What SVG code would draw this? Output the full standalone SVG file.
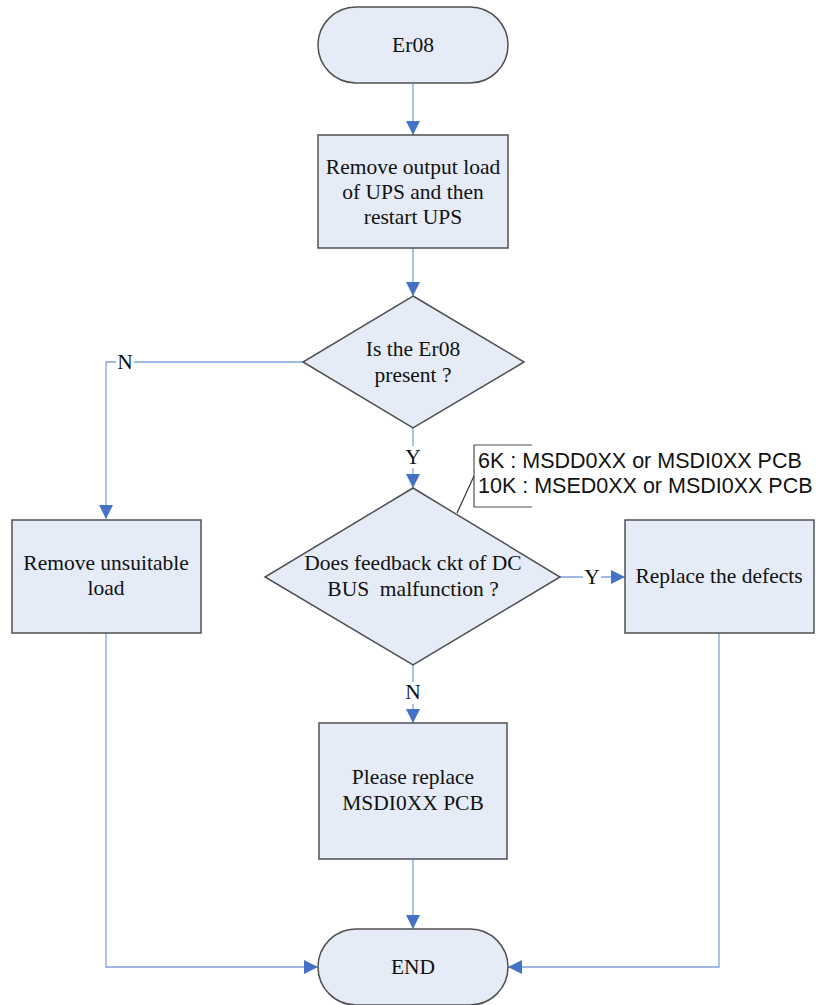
<svg xmlns="http://www.w3.org/2000/svg" width="816" height="1005" viewBox="0 0 816 1005">
  <style>
    .node { fill: #e5ecf7; stroke: #505050; stroke-width: 1.5; }
    .txt { font-family: "Liberation Serif", "Times New Roman", serif; font-size: 21.5px; fill: #111; text-anchor: middle; }
    .note { font-family: "Liberation Sans", Arial, sans-serif; font-size: 21.5px; fill: #111; }
    .conn { fill: none; stroke: #7ea2dc; stroke-width: 1.3; }
    .lbl { font-family: "Liberation Serif", "Times New Roman", serif; font-size: 21.5px; fill: #111; text-anchor: middle; }
  </style>
  <defs>
    <marker id="arrow" viewBox="0 0 10 10" refX="10" refY="5" markerWidth="14" markerHeight="14" markerUnits="userSpaceOnUse" orient="auto">
      <path d="M0,0 L10,5 L0,10 Z" fill="#4472c4"/>
    </marker>
  </defs>
  <rect width="816" height="1005" fill="#ffffff"/>

  <g id="connectors">
    <line class="conn" x1="413" y1="83" x2="413" y2="135" marker-end="url(#arrow)"/>
    <line class="conn" x1="413" y1="248" x2="413" y2="296" marker-end="url(#arrow)"/>
    <polyline class="conn" points="303,362 106,362 106,519" marker-end="url(#arrow)"/>
    <line class="conn" x1="413" y1="428" x2="413" y2="488" marker-end="url(#arrow)"/>
    <line class="conn" x1="560" y1="577" x2="625" y2="577" marker-end="url(#arrow)"/>
    <line class="conn" x1="413" y1="665" x2="413" y2="723" marker-end="url(#arrow)"/>
    <line class="conn" x1="413" y1="859" x2="413" y2="929" marker-end="url(#arrow)"/>
    <polyline class="conn" points="106,633 106,967 318,967" marker-end="url(#arrow)"/>
    <polyline class="conn" points="719,633 719,967 508,967" marker-end="url(#arrow)"/>
    <!-- branch labels on white backing -->
    <rect x="116" y="352" width="18" height="20" fill="#ffffff"/>
    <text class="lbl" x="125" y="369">N</text>
    <rect x="404" y="446" width="18" height="22" fill="#ffffff"/>
    <text class="lbl" x="413" y="464">Y</text>
    <rect x="583" y="567" width="18" height="20" fill="#ffffff"/>
    <text class="lbl" x="592" y="584">Y</text>
    <rect x="404" y="682" width="18" height="22" fill="#ffffff"/>
    <text class="lbl" x="413" y="699">N</text>
  </g>

  <g id="start">
    <rect class="node" x="318" y="7" width="190" height="76" rx="38" ry="38"/>
    <text class="txt" x="413" y="52">Er08</text>
  </g>

  <g id="remove-output-load">
    <rect class="node" x="318" y="135" width="190" height="113"/>
    <text class="txt" x="413" y="174">Remove output load</text>
    <text class="txt" x="413" y="199">of UPS and then</text>
    <text class="txt" x="413" y="224">restart UPS</text>
  </g>

  <g id="is-er08-present">
    <polygon class="node" points="413,296 524,362 413,428 303,362"/>
    <text class="txt" x="413" y="356">Is the Er08</text>
    <text class="txt" x="413" y="382">present ?</text>
  </g>

  <g id="remove-unsuitable-load">
    <rect class="node" x="12" y="520" width="189" height="113"/>
    <text class="txt" x="106" y="570">Remove unsuitable</text>
    <text class="txt" x="106" y="595">load</text>
  </g>

  <g id="feedback-check">
    <polygon class="node" points="413,488 560,577 413,665 265,577"/>
    <text class="txt" x="413" y="570">Does feedback ckt of DC</text>
    <text class="txt" x="413" y="596" xml:space="preserve">BUS  malfunction ?</text>
  </g>

  <g id="pcb-note">
    <path d="M532,445 L474,445 L474,507 L532,507" fill="none" stroke="#505050" stroke-width="1.2"/>
    <line x1="474" y1="476" x2="457" y2="513" stroke="#333" stroke-width="1.2"/>
    <text class="note" x="478" y="468">6K : MSDD0XX or MSDI0XX PCB</text>
    <text class="note" x="478" y="493">10K : MSED0XX or MSDI0XX PCB</text>
  </g>

  <g id="replace-defects">
    <rect class="node" x="625" y="520" width="189" height="113"/>
    <text class="txt" x="719" y="583">Replace the defects</text>
  </g>

  <g id="replace-msdi-pcb">
    <rect class="node" x="319" y="723" width="188" height="136"/>
    <text class="txt" x="413" y="784">Please replace</text>
    <text class="txt" x="413" y="810">MSDI0XX PCB</text>
  </g>

  <g id="end">
    <rect class="node" x="318" y="929" width="190" height="76" rx="38" ry="38"/>
    <text class="txt" x="413" y="974">END</text>
  </g>
</svg>
